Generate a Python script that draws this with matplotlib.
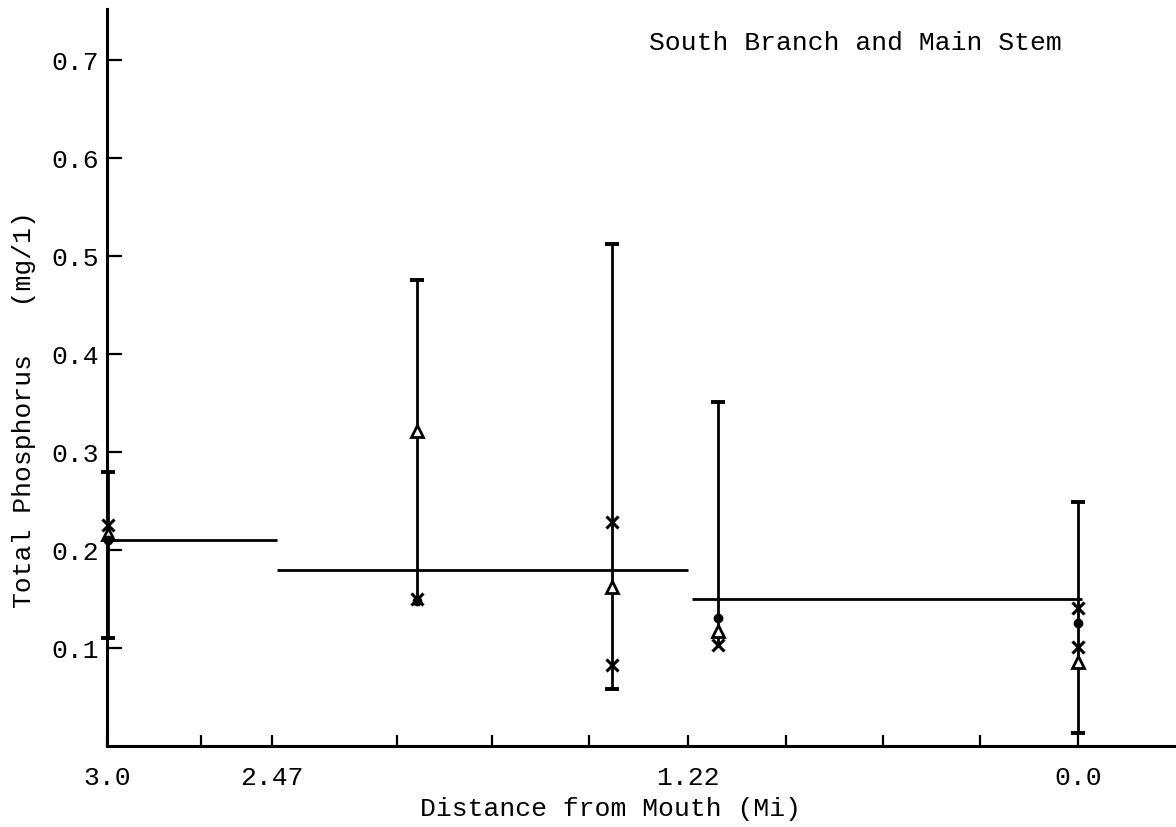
import matplotlib
matplotlib.use("Agg")
import matplotlib.pyplot as plt

# ---- data (schematic x positions along the river) ----
tick_pos = [0.0, 0.96, 1.69, 2.97, 3.95, 4.94, 5.96, 6.96, 7.96, 8.95, 9.96]
tick_labels = ["3.0", "", "2.47", "", "", "", "1.22", "", "", "", "0.0"]

station_x = [0.01, 3.18, 5.18, 6.27, 9.96]
range_low = [0.11, 0.147, 0.058, 0.103, 0.013]
range_high = [0.28, 0.475, 0.512, 0.351, 0.249]
low_cap = [True, False, True, False, True]

x_mark_x = [0.01, 3.18, 5.18, 5.18, 6.27, 9.96, 9.96]
x_mark_y = [0.225, 0.150, 0.229, 0.083, 0.103, 0.141, 0.101]

tri_x = [0.01, 3.18, 5.18, 6.27, 9.96]
tri_y = [0.216, 0.321, 0.162, 0.117, 0.086]

dot_x = [0.01, 3.18, 6.27, 9.96]
dot_y = [0.210, 0.148, 0.131, 0.126]

mean_start = [0.0, 1.74, 6.0]
mean_end = [1.74, 5.96, 10.0]
mean_val = [0.21, 0.18, 0.15]

yticks = [0.1, 0.2, 0.3, 0.4, 0.5, 0.6, 0.7]
ytick_labels = ["0.1", "0.2", "0.3", "0.4", "0.5", "0.6", "0.7"]

plt.rcParams["font.family"] = ["Liberation Mono", "DejaVu Sans Mono"]
FS = 19

fig = plt.figure(figsize=(11.76, 8.28), dpi=100)
W, H = 1176, 828
left, right, bottom, top = 107, 1176, 747, 10
ax = fig.add_axes([left / W, 1 - bottom / H, (right - left) / W, (bottom - top) / H])

ax.set_xlim(0, (right - left) / 97.5)
ax.set_ylim(0, 0.752)

# mean lines
ax.hlines(mean_val, mean_start, mean_end, colors="black", linewidth=2.0, clip_on=False)

# range bars
ax.vlines(station_x, range_low, range_high, colors="black", linewidth=2.0, clip_on=False,
          zorder=3)
ax.plot(station_x, range_high, linestyle="none", marker="_", markersize=10,
        markeredgewidth=2.8, color="black", clip_on=False, zorder=3)
ax.plot([x for x, c in zip(station_x, low_cap) if c],
        [y for y, c in zip(range_low, low_cap) if c],
        linestyle="none", marker="_", markersize=10, markeredgewidth=2.8, color="black",
        clip_on=False, zorder=3)

# sample markers
ax.plot(x_mark_x, x_mark_y, linestyle="none", marker="x", markersize=9,
        markeredgewidth=2.2, color="black", clip_on=False, zorder=4)
ax.plot(tri_x, tri_y, linestyle="none", marker="^", markersize=9,
        markerfacecolor="white", markeredgewidth=2.0, markeredgecolor="black",
        clip_on=False, zorder=4)
ax.plot(dot_x, dot_y, linestyle="none", marker="o", markersize=6, color="black",
        clip_on=False, zorder=5)

# axes styling
for s in ["top", "right"]:
    ax.spines[s].set_visible(False)
for s in ["left", "bottom"]:
    ax.spines[s].set_linewidth(2.2)

ax.set_xticks(tick_pos)
ax.set_xticklabels(tick_labels, fontsize=FS)
ax.set_yticks(yticks)
ax.set_yticklabels(ytick_labels, fontsize=FS)
ax.tick_params(axis="x", direction="in", length=8, width=1.6, pad=14)
ax.tick_params(axis="y", direction="in", length=11, width=1.6, pad=6)

ax.set_xlabel("Distance from Mouth (Mi)", fontsize=FS)
ax.xaxis.set_label_coords((611 - left) / (right - left), (bottom - 797) / (bottom - top))
ax.set_ylabel("Total Phosphorus   (mg/1)", fontsize=FS)
ax.yaxis.set_label_coords((36 - left) / (right - left), (bottom - 410) / (bottom - top))

fig.text(1062 / W, 1 - 43 / H, "South Branch and Main Stem", fontsize=FS,
         ha="right", va="center")

fig.savefig("out.png", dpi=100)
